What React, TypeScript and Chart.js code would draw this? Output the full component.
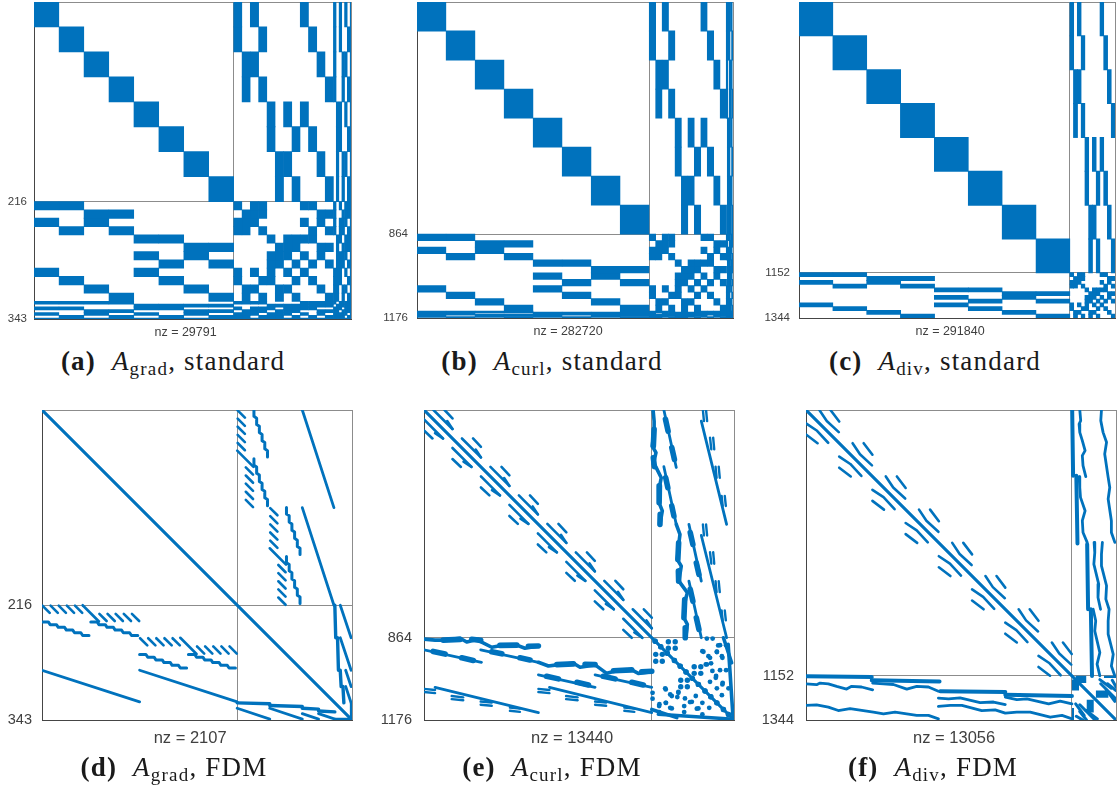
import React, { useEffect, useRef } from "react";
import { Chart, registerables } from "chart.js";

Chart.register(...registerables);

const BLUE = "#0072bd";

// Which of the 8 spectral elements each interface cell touches
const faceElements = ["01", "23", "02", "13", "45", "67", "46", "57", "04", "15", "26", "37"];
const edgeElements = ["0123", "4567", "0145", "2367", "0246", "1357"];
const vertexElements = ["01234567"];
const elementIds = ["0", "1", "2", "3", "4", "5", "6", "7"];

// Sizes: matrix size, split, element / face / edge / vertex block sizes
const gradSizes = [343, 216, 27, 9, 3, 1];
const curlSizes = [1176, 864, 108, 24, 4, 0];
const divSizes = [1344, 1152, 144, 16, 0, 0];

const nzLabels = ["nz = 29791", "nz = 282720", "nz = 291840", "nz = 2107", "nz = 13440", "nz = 13056"];

// ---- panel (d) ----
const dDiagonal = [[0, 0], [343, 343]];
const dDashStarts = [
  [0, 216], [9, 216], [18, 216], [27, 216], [36, 216],
  [63, 225], [72, 225], [81, 225], [90, 225], [99, 225],
  [108, 252], [117, 252], [126, 252], [135, 252], [144, 252],
  [171, 261], [180, 261], [189, 261], [198, 261], [207, 261],
];
const dLongDashes = [[[45, 216], [63, 234]], [[153, 252], [171, 270]]];
const dStairShape = [[0, 0], [7, 0], [9, 3], [16, 3], [18, 6], [25, 6], [27, 9], [34, 9], [36, 12], [43, 12], [45, 15], [52, 15]];
const dStairOrigins = [[0, 234.5], [54, 234.5], [108, 270.5], [162, 270.5]];
const dStraight = [
  [[0, 288], [108, 323]], [[108, 288], [216, 323]],
  [[216, 330], [252, 342]], [[252, 330], [288, 342]], [[288, 336], [306, 342]], [[306, 336], [324, 342]],
];
const dFlat = [
  [[216, 324], [252, 325]], [[252, 327], [288, 328]], [[288, 330], [306, 331]], [[306, 333], [324, 334]],
  [[324, 342.5], [343, 342.5]],
];

// ---- panel (e) ----
const eBlockStrokes = [[[36, 0], [108, 72]], [[78, 0], [108, 32]], [[88, 42], [108, 72]]];
const eWiggles = [
  [[0, 869], [42, 873], [73, 873], [137, 866], [162, 880], [206, 870], [215, 879], [257, 900], [288, 894], [352, 892], [383, 904], [434, 895]],
  [[434, 957], [472, 971], [504, 967], [567, 961], [592, 976], [649, 967], [693, 999], [731, 989], [788, 986], [813, 999], [864, 993]],
];
const eLines = [
  [[0, 910], [218, 957]], [[215, 910], [434, 957]], [[434, 1005], [649, 1052]], [[649, 1005], [864, 1052]],
  [[42, 1052], [434, 1148]], [[476, 1052], [864, 1148]],
];
const eBlobs = [
  [[73, 873], [137, 870]], [[181, 870], [215, 874]], [[288, 893], [352, 892]], [[396, 896], [434, 895]],
  [[504, 966], [567, 963]], [[611, 965], [649, 966]], [[719, 989], [788, 986]], [[826, 993], [864, 991]],
  [[35, 916], [80, 926]], [[143, 940], [187, 950]], [[257, 917], [295, 925]], [[364, 940], [402, 948]],
  [[465, 1010], [510, 1020]], [[580, 1033], [624, 1043]], [[680, 1010], [725, 1020]], [[788, 1033], [832, 1043]],
];
const eBars = [
  [[0, 1058], [42, 1062]], [[0, 1070], [42, 1074]], [[105, 1085], [149, 1090]], [[105, 1097], [149, 1101]],
  [[215, 1106], [257, 1110]], [[215, 1118], [257, 1122]], [[326, 1129], [364, 1133]], [[326, 1141], [364, 1145]],
  [[434, 1058], [476, 1062]], [[434, 1070], [476, 1074]], [[539, 1085], [583, 1090]], [[539, 1097], [583, 1101]],
  [[649, 1106], [691, 1110]], [[649, 1118], [691, 1122]], [[760, 1129], [798, 1133]], [[760, 1141], [798, 1145]],
];
const eCornerLines = [[[864, 1136], [959, 1167]], [[889, 1154], [1177, 1173]]];
const eDiagDots = [13, 34, 59, 86, 108, 130, 154, 177, 202, 224, 247, 272, 291];
const eBigDots = [
  [63, 15], [89, 15], [63, 40], [89, 40], [161, 110], [186, 110], [161, 135], [186, 135],
];
const eSmallDots = [
  [209, 3], [231, 3], [259, 28], [282, 28], [196, 53], [215, 70], [247, 53], [266, 70],
  [225, 97], [209, 101], [259, 123], [282, 123], [221, 167], [244, 145], [269, 171], [291, 192],
  [247, 192], [266, 218], [51, 192], [76, 221], [101, 205], [29, 252], [54, 247], [76, 268],
  [152, 243], [177, 268], [126, 230],
];

// ---- panel (f) ----
const fBlockStrokes = [[[0, 58], [48, 90], [96, 142]], [[0, 106], [50, 144]]];
const fBands = [
  [[0, 1154], [285, 1158]], [[285, 1172], [579, 1177]], [[582, 1219], [864, 1223]], [[864, 1235], [1153, 1240]],
];
const fLines = [
  [[0, 1187], [46, 1191], [61, 1184], [97, 1187], [133, 1198], [176, 1210], [198, 1198], [241, 1201], [289, 1213]],
  [[289, 1184], [336, 1187], [379, 1190], [437, 1210], [480, 1198], [531, 1201], [574, 1219]],
  [[574, 1249], [618, 1252], [668, 1248], [755, 1269], [813, 1266], [864, 1277]],
  [[864, 1245], [914, 1256], [958, 1252], [1052, 1274], [1102, 1262], [1153, 1274]],
  [[0, 1281], [46, 1278], [97, 1288], [140, 1303], [191, 1295], [292, 1310], [336, 1317], [386, 1310], [480, 1324], [531, 1324], [574, 1339]],
  [[574, 1285], [625, 1281], [676, 1281], [762, 1303], [820, 1300], [864, 1314], [914, 1310], [972, 1310], [1059, 1332], [1110, 1324], [1153, 1339]],
];
const fCornerRects = [[1168, 1152, 1216, 1184], [1256, 1216, 1312, 1248], [1292, 1152, 1344, 1162]];
const fCornerLines = [
  [[1278, 1187], [1343, 1252]], [[1307, 1187], [1344, 1216]], [[1328, 1172], [1344, 1200]],
  [[1302, 1213], [1339, 1263]], [[1274, 1169], [1324, 1206]],
];

type Pts = number[][];
type Stroke = { pts: Pts; w: number };
type Spec = {
  n: number; split: number; left: number; top: number; size: number; font: number; nzFont: number;
  gap: number; pad: number; thinPad: number; nz: string; pb: number; axisB: number; axisL: number;
  rects: number[][]; strokes: Stroke[]; big: Pts; small: Pts; bigR: number; smallR: number; spaces: number;
};

function shares(a: string, b: string) {
  return a.split("").some((c) => b.includes(c));
}

function standardRects(sizes: number[]) {
  const [, , el, face, edge, vert] = sizes;
  const cells: { s: string; z: number }[] = [];
  elementIds.forEach((s) => cells.push({ s, z: el }));
  faceElements.forEach((s) => cells.push({ s, z: face }));
  if (edge) edgeElements.forEach((s) => cells.push({ s, z: edge }));
  if (vert) vertexElements.forEach((s) => cells.push({ s, z: vert }));
  const starts: number[] = [];
  let at = 0;
  cells.forEach((c) => { starts.push(at); at += c.z; });
  const rects: number[][] = [];
  cells.forEach((ci, i) => cells.forEach((cj, j) => {
    if (shares(ci.s, cj.s)) rects.push([starts[j], starts[i], starts[j] + cj.z, starts[i] + ci.z]);
  }));
  return rects;
}

const mirror = (p: Pts) => p.map(([x, y]) => [y, x]);
const shift = (p: Pts, dx: number, dy: number) => p.map(([x, y]) => [x + dx, y + dy]);
const thin = (list: Pts[], w: number): Stroke[] => list.map((pts) => ({ pts, w }));

function dStrokes(): Stroke[] {
  const out: Stroke[] = [{ pts: dDiagonal, w: 2.8 }];
  dDashStarts.forEach(([u, v]) => out.push({ pts: [[u + 0.5, v + 0.5], [u + 8.5, v + 8.5]], w: 2.6 }));
  out.push(...thin(dLongDashes, 2.6));
  dStairOrigins.forEach(([u, v]) => out.push({ pts: shift(dStairShape, u, v), w: 3 }));
  out.push(...thin(dStraight, 2.8));
  out.push(...thin(dFlat, 3.4));
  return out;
}

function eStrokes(): Stroke[] {
  const out: Stroke[] = [{ pts: [[0, 0], [1176, 1176]], w: 2.8 }];
  elementIds.forEach((_, i) => eBlockStrokes.forEach((s) => out.push({ pts: shift(s, i * 108, i * 108), w: 2.6 })));
  out.push(...thin(eWiggles, 3.6));
  out.push(...thin(eLines, 2.8));
  out.push(...thin(eBlobs, 5.6));
  out.push(...thin(eBars, 2.4));
  out.push(...thin(eCornerLines, 3.6));
  return out;
}

function fStrokes(): Stroke[] {
  const out: Stroke[] = [{ pts: [[0, 0], [1344, 1344]], w: 2.8 }];
  elementIds.forEach((_, i) => fBlockStrokes.forEach((s) => out.push({ pts: shift(s, i * 144, i * 144), w: 2.6 })));
  out.push(...thin(fBands, 4));
  out.push(...thin(fLines, 2.8));
  out.push(...thin(fCornerLines, 3));
  return out;
}

const L = 48;
const specs: Spec[] = [
  { n: 343, split: 216, left: 34, top: 2, size: 317, font: 11.5, nzFont: 12.5, gap: 7, pad: 0.4, thinPad: 0.4, nz: nzLabels[0], pb: 5, axisB: 26, axisL: L, rects: standardRects(gradSizes), strokes: [], big: [], small: [], bigR: 0, smallR: 0, spaces: 4 },
  { n: 1176, split: 864, left: 417, top: 2, size: 316, font: 11.5, nzFont: 12.5, gap: 9, pad: 0.4, thinPad: 0.8, nz: nzLabels[1], pb: 5, axisB: 26, axisL: L, rects: standardRects(curlSizes), strokes: [], big: [], small: [], bigR: 0, smallR: 0, spaces: 4 },
  { n: 1344, split: 1152, left: 799, top: 2, size: 316, font: 11.5, nzFont: 12.5, gap: 9, pad: 0.5, thinPad: 0.5, nz: nzLabels[2], pb: 5, axisB: 26, axisL: L, rects: standardRects(divSizes), strokes: [], big: [], small: [], bigR: 0, smallR: 0, spaces: 4 },
  { n: 343, split: 216, left: 42, top: 410, size: 310, font: 14.5, nzFont: 16.5, gap: 10, pad: 0, thinPad: 0, nz: nzLabels[3], pb: 6, axisB: 34, axisL: L, rects: [], strokes: dStrokes(), big: [], small: [], bigR: 0, smallR: 0, spaces: 3 },
  {
    n: 1176, split: 864, left: 424, top: 410, size: 310, font: 14.5, nzFont: 16.5, gap: 12, pad: 0, thinPad: 0, nz: nzLabels[4], pb: 6, axisB: 34, axisL: L, rects: [], strokes: eStrokes(),
    big: [...eBigDots, ...eDiagDots.map((d) => [d, d])].map(([x, y]) => [x + 864, y + 864]),
    small: eSmallDots.map(([x, y]) => [x + 864, y + 864]), bigR: 2.7, smallR: 2.4, spaces: 3,
  },
  { n: 1344, split: 1152, left: 806, top: 410, size: 310, font: 14.5, nzFont: 16.5, gap: 12, pad: 0, thinPad: 0, nz: nzLabels[5], pb: 6, axisB: 34, axisL: L, rects: fCornerRects, strokes: fStrokes(), big: [], small: [], bigR: 0, smallR: 0, spaces: 3 },
];

function buildDatasets(spec: Spec) {
  const sets: any[] = [];
  const unit = spec.n / spec.size;
  const addRect = ([x0, y0, x1, y1]: number[]) => {
    const px = (x1 - x0) / unit < 1.5 ? spec.thinPad : spec.pad;
    const py = (y1 - y0) / unit < 1.5 ? spec.thinPad : spec.pad;
    const padX = px * unit;
    const padY = py * unit;
    sets.push({
      data: [{ x: x0 - padX, y: y0 - padY }, { x: x1 + padX, y: y0 - padY }],
      showLine: true, fill: { value: y1 + padY }, backgroundColor: BLUE, borderWidth: 0, pointRadius: 0,
    });
  };
  spec.rects.forEach((r) => {
    addRect(r);
    if (spec.pad === 0) addRect([r[1], r[0], r[3], r[2]]);
  });
  const addLine = (pts: Pts, w: number) => sets.push({
    data: pts.map(([x, y]) => ({ x, y })), showLine: true, fill: false, borderColor: BLUE, borderWidth: w,
    borderCapStyle: "round", borderJoinStyle: "round", pointRadius: 0, tension: 0,
  });
  spec.strokes.forEach((s) => { addLine(s.pts, s.w); addLine(mirror(s.pts), s.w); });
  const addDots = (pts: Pts, r: number) => sets.push({
    data: [...pts, ...mirror(pts)].map(([x, y]) => ({ x, y })), showLine: false,
    pointRadius: r, pointBackgroundColor: BLUE, pointBorderWidth: 0,
  });
  if (spec.big.length) addDots(spec.big, spec.bigR);
  if (spec.small.length) addDots(spec.small, spec.smallR);
  return sets;
}

function Panel({ spec }: { spec: Spec }) {
  const ref = useRef<HTMLCanvasElement>(null);
  useEffect(() => {
    const tickSet = (s: any) => { s.ticks = [{ value: 0 }, { value: spec.split }, { value: spec.n }]; };
    const noPadding = (s: any) => { s.paddingTop = 0; s.paddingBottom = 0; s.paddingLeft = 0; s.paddingRight = 0; };
    const chart = new Chart(ref.current as HTMLCanvasElement, {
      type: "scatter",
      data: { datasets: buildDatasets(spec) },
      options: {
        animation: false,
        responsive: false,
        events: [],
        layout: { padding: { top: 5, right: 5, left: 0, bottom: 0 } },
        plugins: { legend: { display: false }, tooltip: { enabled: false } },
        scales: {
          x: {
            type: "linear", min: 0, max: spec.n,
            afterBuildTicks: tickSet,
            afterFit: (s: any) => { s.height = spec.axisB; noPadding(s); },
            ticks: { display: false },
            grid: { color: "#8c8c8c", lineWidth: 1, drawTicks: false },
            border: { color: "#454545", width: 1 },
            title: {
              display: true, text: spec.nz + " ".repeat(spec.spaces), color: "#404040",
              font: { family: "'Liberation Sans'", size: spec.nzFont }, padding: { top: 0, bottom: spec.pb },
            },
          },
          y: {
            type: "linear", min: 0, max: spec.n, reverse: true,
            afterBuildTicks: tickSet,
            afterFit: (s: any) => { s.width = spec.axisL; noPadding(s); },
            ticks: {
              autoSkip: false, maxRotation: 0, padding: spec.gap, color: "#404040",
              font: { family: "'Liberation Sans'", size: spec.font },
              callback: (v: any) => (v === 0 ? "" : String(v)),
            },
            grid: { color: "#8c8c8c", lineWidth: 1, drawTicks: false },
            border: { color: "#454545", width: 1 },
          },
        },
      } as any,
    });
    return () => chart.destroy();
  }, [spec]);
  const width = L + spec.size + 5;
  const height = 5 + spec.size + spec.axisB;
  return (
    <canvas
      ref={ref}
      width={width}
      height={height}
      style={{ position: "absolute", left: spec.left - L, top: spec.top - 5, width, height, display: "block" }}
    />
  );
}

const captions = [
  { tag: "(a)", sym: "grad", rest: ", standard", x: 173, y: 362 },
  { tag: "(b)", sym: "curl", rest: ", standard", x: 552, y: 362 },
  { tag: "(c)", sym: "div", rest: ", standard", x: 935, y: 362 },
  { tag: "(d)", sym: "grad", rest: ", FDM", x: 174, y: 768 },
  { tag: "(e)", sym: "curl", rest: ", FDM", x: 552, y: 768 },
  { tag: "(f)", sym: "div", rest: ", FDM", x: 933, y: 768 },
];

export default function App() {
  return (
    <div style={{ position: "fixed", left: 0, top: 0, width: 1120, height: 790, background: "#fff", overflow: "hidden" }}>
      {specs.map((s, i) => <Panel key={i} spec={s} />)}
      {captions.map((c, i) => (
        <div
          key={i}
          style={{
            position: "absolute", left: c.x, top: c.y, transform: "translate(-50%,-50%)", whiteSpace: "pre",
            fontFamily: "'Liberation Serif'", fontSize: 27, letterSpacing: 1.2, color: "#1a1a1a", lineHeight: "30px",
          }}
        >
          <b>{c.tag}</b>{"  "}<i>A</i>
          <span style={{ fontSize: 19, position: "relative", top: 5 }}>{c.sym}</span>{c.rest}
        </div>
      ))}
    </div>
  );
}
